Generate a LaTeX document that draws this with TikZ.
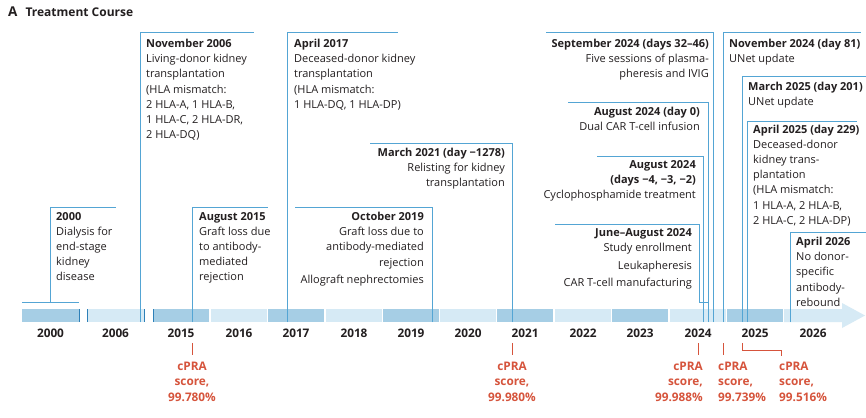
\documentclass[tikz,border=0pt]{standalone}
\usepackage{fontspec}
\setmainfont{Open Sans}
\definecolor{lineblue}{RGB}{84,165,212}
\definecolor{tickblue}{RGB}{45,128,184}
\definecolor{bardark}{RGB}{166,206,229}
\definecolor{barlight}{RGB}{214,234,245}
\definecolor{cprared}{RGB}{214,84,60}
\definecolor{ink}{RGB}{35,31,32}

\begin{document}
\begin{tikzpicture}[x=1pt,y=-1pt,
    evline/.style={draw=lineblue,line width=0.9pt},
    evleft/.style={inner sep=0pt,anchor=north west,align=left,text=ink,
      font=\fontsize{11}{15.2}\selectfont},
    evright/.style={evleft,anchor=north east,align=right},
    yearlabel/.style={inner sep=0pt,anchor=base,text=ink,
      font=\fontsize{11.8}{14}\selectfont\bfseries},
    cpra/.style={inner sep=0pt,anchor=base,align=center,text=cprared,
      font=\fontsize{11.8}{15.5}\selectfont\bfseries},
    cpratick/.style={draw=cprared,line width=0.9pt}]
  \useasboundingbox[fill=white] (0,0) rectangle (866,417);

  \node[inner sep=0pt,anchor=base west,text=ink,font=\bfseries]
    (title) at (8,17) {\fontsize{13.5}{15}\selectfont A\hspace{8pt}\fontsize{12}{15}\selectfont Treatment Course};

  % timeline bar
  \foreach \yr/\xa/\xb/\col in {2000/22/79/bardark, 2006/87/144/barlight,
      2015/153/209/bardark, 2016/211/267/barlight, 2017/268/324/bardark,
      2018/326/382/barlight, 2019/383/439/bardark, 2020/440/496/barlight,
      2021/497/553/bardark, 2022/555/611/barlight, 2023/612/668/bardark,
      2024/670/726/barlight, 2025/727/783/bardark} {
    \fill[\col] (\xa,309) rectangle (\xb,322);
    \node[yearlabel] (y\yr) at ({(\xa+\xb)/2},337.5) {\yr};
  }
  \fill[barlight] (784,309) -- (842,309) -- (842,303) -- (865,315.5)
    -- (842,328) -- (842,322) -- (784,322) -- cycle;
  \node[yearlabel] (y2026) at (813,337.5) {2026};
  \foreach \x in {79,87,144,153}
    \draw[tickblue,line width=1pt] (\x,309) -- (\x,322);

  % events before the trial
  \coordinate (b2000a) at (22,302);
  \coordinate (b2000b) at (79,302);
  \coordinate (b2000) at (50,302);
  \coordinate (c2000) at (116,207);
  \draw[evline] (b2000a) -- (b2000b);
  \draw[evline] (b2000) |- (c2000);
  \node[evleft] (e2000) at (56,212) {\textbf{2000}\\Dialysis for\\end-stage\\kidney\\disease};

  \coordinate (b2006) at (140,322);
  \coordinate (c2006) at (254,32);
  \draw[evline] (b2006) |- (c2006);
  \node[evleft] (e2006) at (146,39) {\textbf{November 2006}\\Living-donor kidney\\transplantation\\(HLA mismatch:\\2 HLA-A, 1 HLA-B,\\1 HLA-C, 2 HLA-DR,\\2 HLA-DQ)};

  \coordinate (b2015) at (192,322);
  \coordinate (c2015) at (268,207);
  \draw[evline] (b2015) |- (c2015);
  \node[evleft] (e2015) at (199,212) {\textbf{August 2015}\\Graft loss due\\to antibody-\\mediated\\rejection};

  \coordinate (b2017) at (287,322);
  \coordinate (c2017) at (398,32);
  \draw[evline] (b2017) |- (c2017);
  \node[evleft] (e2017) at (294,39) {\textbf{April 2017}\\Deceased-donor kidney\\transplantation\\(HLA mismatch:\\1 HLA-DQ, 1 HLA-DP)};

  \coordinate (b2019) at (432,322);
  \coordinate (c2019) at (295,207);
  \draw[evline] (b2019) |- (c2019);
  \node[evright] (e2019) at (424,212) {\textbf{October 2019}\\Graft loss due to\\antibody-mediated\\rejection\\[2pt]Allograft nephrectomies};

  \coordinate (b2021) at (512,322);
  \coordinate (c2021) at (370,143);
  \draw[evline] (b2021) |- (c2021);
  \node[evright] (e2021) at (505,147.5) {\textbf{March 2021 (day −1278)}\\Relisting for kidney\\transplantation};

  % trial and after
  \coordinate (bjun24) at (699,302);
  \coordinate (bjun24r) at (708,302);
  \coordinate (cjun24) at (555,224);
  \draw[evline] (bjun24r) -- (bjun24) |- (cjun24);
  \node[evright] (ejun24) at (692,228.5) {\textbf{June–August 2024}\\Study enrollment\\[2pt]Leukapheresis\\[2pt]CAR T-cell manufacturing};

  \coordinate (bcyc) at (703,322);
  \coordinate (ccyc) at (597,156);
  \draw[evline] (bcyc) |- (ccyc);
  \node[evright] (ecyc) at (696,160) {\textbf{August 2024}\\\textbf{(days −4, −3, −2)}\\Cyclophosphamide treatment};

  \coordinate (binf) at (708,322);
  \coordinate (cinf) at (568,102);
  \draw[evline] (binf) |- (cinf);
  \node[evright] (einf) at (700,106.5) {\textbf{August 2024 (day 0)}\\Dual CAR T-cell infusion};

  \coordinate (bsep24) at (713,322);
  \coordinate (csep24) at (546,32);
  \draw[evline] (bsep24) |- (csep24);
  \node[evright] (esep24) at (709,38.5) {\textbf{September 2024 (days 32–46)}\\Five sessions of plasma-\\pheresis and IVIG};

  \coordinate (bnov24) at (723,322);
  \coordinate (cnov24) at (861,32);
  \draw[evline] (bnov24) |- (cnov24);
  \node[evleft] (enov24) at (729,38.5) {\textbf{November 2024 (day 81)}\\UNet update};

  \coordinate (bmar25) at (742,322);
  \coordinate (cmar25) at (866,76);
  \draw[evline] (bmar25) |- (cmar25);
  \node[evleft] (emar25) at (748,81.5) {\textbf{March 2025 (day 201)}\\UNet update};

  \coordinate (bapr25) at (747,322);
  \coordinate (capr25) at (857,121);
  \draw[evline] (bapr25) |- (capr25);
  \node[evleft] (eapr25) at (753,124.5) {\textbf{April 2025 (day 229)}\\Deceased-donor\\kidney trans-\\plantation\\(HLA mismatch:\\1 HLA-A, 2 HLA-B,\\2 HLA-C, 2 HLA-DP)};

  \coordinate (bapr26) at (790,322);
  \coordinate (capr26) at (866,232);
  \draw[evline] (bapr26) |- (capr26);
  \node[evleft] (eapr26) at (796,237) {\textbf{April 2026}\\No donor-\\specific\\antibody-\\rebound};

  % cPRA scores
  \draw[cpratick] (192,343) -- (192,355);
  \node[cpra] (p2015) at (192,401) {cPRA\\score,\\99.780\%};
  \draw[cpratick] (512,343) -- (512,355);
  \node[cpra] (p2021) at (512,401) {cPRA\\score,\\99.980\%};
  \draw[cpratick] (698,343) -- (698,355);
  \node[cpra,anchor=base east,align=right] (p2024) at (703,401) {cPRA\\score,\\99.988\%};
  \draw[cpratick] (723,343) -- (723,355);
  \node[cpra,anchor=base west,align=left] (p2024b) at (718,401) {cPRA\\score,\\99.739\%};
  \draw[cpratick] (742,343) -- (742,350) -- (781,350) -- (781,356);
  \node[cpra,anchor=base west,align=left] (p2025) at (779,401) {cPRA\\score,\\99.516\%};
\end{tikzpicture}
\end{document}
